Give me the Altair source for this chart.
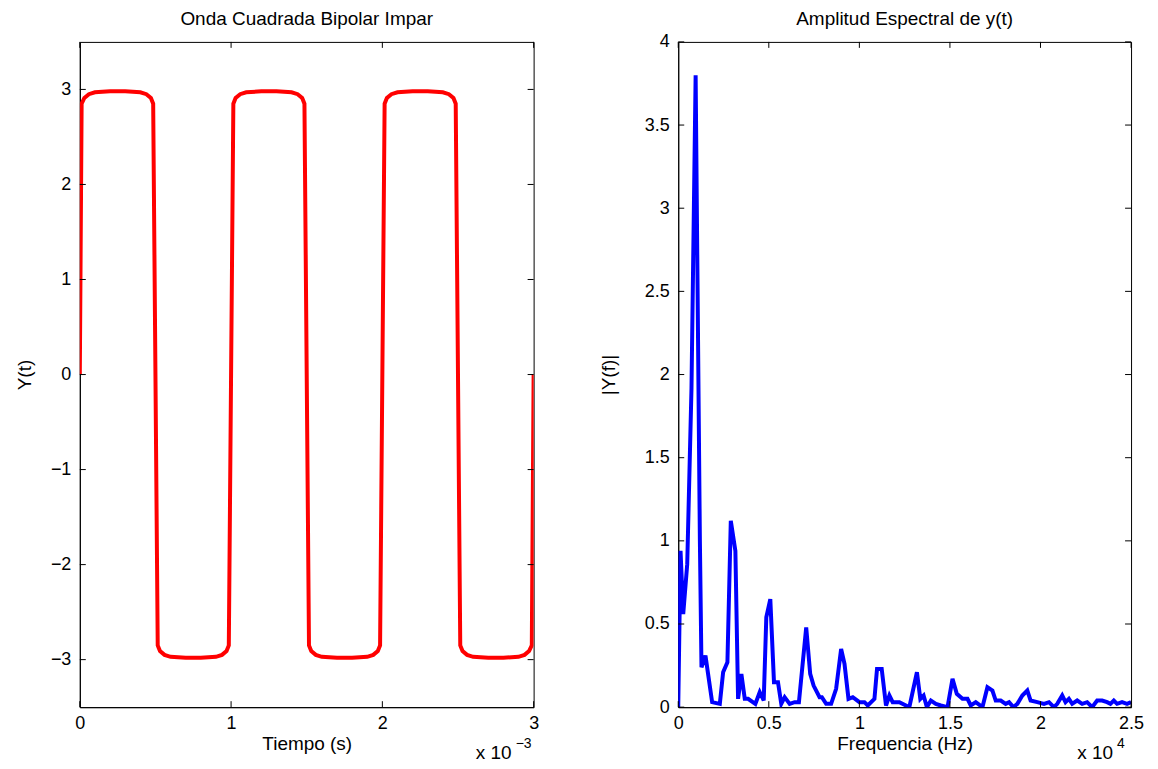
import altair as alt
import pandas as pd

# ---- Left panel: square wave (time in units of 1e-3 s) ----
t_ms = [0.000, 0.012, 0.03, 0.06, 0.10, 0.20, 0.30, 0.40, 0.44, 0.47, 0.485,
        0.515, 0.53, 0.56, 0.60, 0.70, 0.80, 0.90, 0.94, 0.97, 0.985,
        1.015, 1.03, 1.06, 1.10, 1.20, 1.30, 1.40, 1.44, 1.47, 1.485,
        1.515, 1.53, 1.56, 1.60, 1.70, 1.80, 1.90, 1.94, 1.97, 1.985,
        2.015, 2.03, 2.06, 2.10, 2.20, 2.30, 2.40, 2.44, 2.47, 2.485,
        2.515, 2.53, 2.56, 2.60, 2.70, 2.80, 2.90, 2.94, 2.97, 2.988,
        3.000]
y_t = [0.0, 2.85, 2.91, 2.95, 2.97, 2.98, 2.98, 2.97, 2.95, 2.91, 2.85,
       -2.85, -2.91, -2.95, -2.97, -2.98, -2.98, -2.97, -2.95, -2.91, -2.85,
       2.85, 2.91, 2.95, 2.97, 2.98, 2.98, 2.97, 2.95, 2.91, 2.85,
       -2.85, -2.91, -2.95, -2.97, -2.98, -2.98, -2.97, -2.95, -2.91, -2.85,
       2.85, 2.91, 2.95, 2.97, 2.98, 2.98, 2.97, 2.95, 2.91, 2.85,
       -2.85, -2.91, -2.95, -2.97, -2.98, -2.98, -2.97, -2.95, -2.91, -2.85,
       0.0]

# ---- Right panel: amplitude spectrum ----
freq_hz = [0, 127, 275, 496, 732, 960, 1195, 1283, 1503, 1647, 1872, 2296, 2478,
           2715, 2902, 3155, 3304, 3486, 3673, 3855, 4257, 4499, 4719, 4862,
           5083, 5286, 5507, 5688, 5876, 6151, 6426, 6663, 7065, 7285, 7473,
           7803, 7930, 8166, 8442, 8717, 8993, 9180, 9400, 9637, 10006, 10281,
           10463, 10832, 10975, 11234, 11471, 11658, 11839, 12209, 12572, 12759,
           13178, 13365, 13546, 13728, 13948, 14224, 14499, 14868, 15143, 15380,
           15694, 15969, 16151, 16426, 16795, 17070, 17346, 17528, 17803, 18078,
           18265, 18502, 18722, 18998, 19273, 19455, 19824, 20193, 20468, 20744,
           20925, 21200, 21382, 21569, 21751, 22026, 22302, 22577, 22852, 23128,
           23403, 23678, 23860, 24047, 24229, 24504, 24779, 25000]
amp = [0.0, 0.94, 0.56, 0.86, 1.92, 3.80, 1.0, 0.24, 0.31, 0.20, 0.03, 0.02, 0.21,
       0.27, 1.12, 0.94, 0.05, 0.20, 0.05, 0.05, 0.02, 0.09, 0.04, 0.54,
       0.65, 0.15, 0.15, 0.02, 0.06, 0.02, 0.03, 0.03, 0.48, 0.20, 0.13,
       0.06, 0.06, 0.02, 0.02, 0.11, 0.35, 0.26, 0.05, 0.06, 0.03, 0.03,
       0.01, 0.05, 0.23, 0.23, 0.01, 0.07, 0.03, 0.03, 0.01, 0.0,
       0.21, 0.05, 0.07, 0.0, 0.04, 0.02, 0.01, 0.0, 0.17, 0.08,
       0.05, 0.05, 0.01, 0.03, 0.0, 0.12, 0.10, 0.04, 0.04, 0.02,
       0.03, 0.0, 0.02, 0.07, 0.10, 0.04, 0.03, 0.02, 0.03, 0.0,
       0.02, 0.07, 0.03, 0.05, 0.02, 0.04, 0.02, 0.03, 0.0, 0.04,
       0.04, 0.03, 0.02, 0.04, 0.02, 0.03, 0.02, 0.03]

left_x_ticks = [0, 1, 2, 3]
left_y_ticks = [-3, -2, -1, 0, 1, 2, 3]
right_x_ticks = [0, 0.5, 1, 1.5, 2, 2.5]
right_y_ticks = [0, 0.5, 1, 1.5, 2, 2.5, 3, 3.5, 4]

FONT = "Liberation Sans"
W1, W2, H = 455, 454, 667
TK = 6


def panel(df, xf, yf, color, xdom, ydom, xticks, yticks, W, xtitle, ytitle,
          title, exp_text, ttl_pad):
    xs = alt.Scale(domain=xdom, nice=False, zero=False)
    ys = alt.Scale(domain=ydom, nice=False, zero=False)
    xaxis = alt.Axis(values=xticks, ticks=False, grid=False, labelPadding=7,
                     labelFontSize=18, labelFont=FONT, labelColor="black",
                     titleFontSize=19, titleFont=FONT, titleFontWeight="normal",
                     titleColor="black", titlePadding=2, domainColor="black",
                     labelFlush=False, labelOverlap=False, format="~g")
    yaxis = alt.Axis(values=yticks, ticks=False, grid=False, labelPadding=9,
                     labelFontSize=18, labelFont=FONT, labelColor="black",
                     titleFontSize=19, titleFont=FONT, titleFontWeight="normal",
                     titleColor="black", titlePadding=ttl_pad, domainColor="black",
                     labelFlush=False, labelOverlap=False, format="~g")
    X = lambda f: alt.X(f"{f}:Q", scale=xs, axis=xaxis, title=xtitle)
    Y = lambda f: alt.Y(f"{f}:Q", scale=ys, axis=yaxis, title=ytitle)
    line = alt.Chart(df).mark_line(color=color, strokeWidth=4, clip=True).encode(
        x=X(xf), y=Y(yf), order=alt.Order("idx:Q"),
    )
    xt = pd.DataFrame({"v": xticks})
    yt = pd.DataFrame({"v": yticks})
    rx_bot = alt.Chart(xt).mark_rule(color="black", strokeWidth=1).encode(
        x=X("v"), y=alt.value(H), y2=alt.value(H - TK))
    rx_top = alt.Chart(xt).mark_rule(color="black", strokeWidth=1).encode(
        x=X("v"), y=alt.value(0), y2=alt.value(TK))
    ry_l = alt.Chart(yt).mark_rule(color="black", strokeWidth=1).encode(
        y=Y("v"), x=alt.value(0), x2=alt.value(TK))
    ry_r = alt.Chart(yt).mark_rule(color="black", strokeWidth=1).encode(
        y=Y("v"), x=alt.value(W), x2=alt.value(W - TK))
    one = pd.DataFrame({"a": [0]})
    base_txt = alt.Chart(one).mark_text(font=FONT, fontSize=19, align="left",
                                        baseline="alphabetic", color="black").encode(
        x=alt.value(exp_text[0]), y=alt.value(H + 52), text=alt.value("x 10"))
    sup_txt = alt.Chart(one).mark_text(font=FONT, fontSize=14, align="left",
                                       baseline="alphabetic", color="black").encode(
        x=alt.value(exp_text[0] + 40), y=alt.value(H + 41), text=alt.value(exp_text[1]))
    ttl = alt.Chart(one).mark_text(font=FONT, fontSize=19, align="center",
                                   baseline="middle", color="black").encode(
        x=alt.value(W / 2), y=alt.value(-23), text=alt.value(title))
    return alt.layer(line, rx_bot, rx_top, ry_l, ry_r, base_txt, sup_txt, ttl).properties(
        width=W, height=H)


df_left = pd.DataFrame({"t": t_ms, "y": y_t, "idx": range(len(t_ms))})
df_right = pd.DataFrame({"f": freq_hz, "a": amp, "idx": range(len(freq_hz))})
df_right["f4"] = df_right["f"] / 1e4

left = panel(df_left, "t", "y", "#ff0000", [0, 3], [-3.5, 3.5], left_x_ticks,
             left_y_ticks, W1, "Tiempo (s)", "Y(t)",
             "Onda Cuadrada Bipolar Impar", (397, "\u22123"), 16)
right = panel(df_right, "f4", "a", "#0000ff", [0, 2.5], [0, 4], right_x_ticks,
              right_y_ticks, W2, "Frequencia (Hz)", "|Y(f)|",
              "Amplitud Espectral de y(t)", (400, "4"), 26)

chart = alt.hconcat(left, right, spacing=145, bounds="flush").configure_view(
    stroke="black", strokeWidth=1
).properties(
    padding={"left": 6, "top": 0, "right": 5, "bottom": 0},
    background="white",
)

chart.save("out.html", embed_options={"renderer": "svg", "actions": False})
